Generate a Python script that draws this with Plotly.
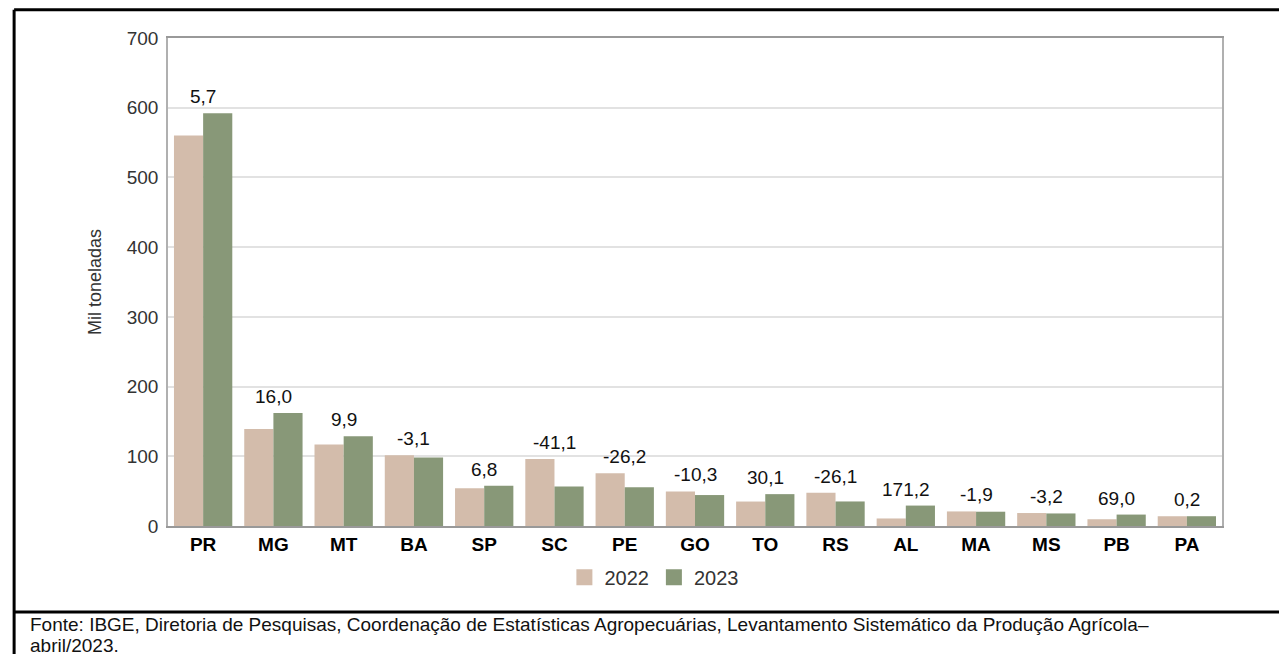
import plotly.graph_objects as go

# Produção por UF (mil toneladas) e variação percentual 2023/2022
estados = ["PR", "MG", "MT", "BA", "SP", "SC", "PE", "GO", "TO", "RS", "AL", "MA", "MS", "PB", "PA"]
prod_2022 = [560, 139, 117, 101.5, 54, 96, 75.5, 49.5, 35.1, 47.6, 10.8, 20.9, 18.6, 9.7, 14.0]
prod_2023 = [592, 162, 128.6, 98.4, 57.7, 56.5, 55.7, 44.4, 45.7, 35.2, 29.3, 20.5, 18.0, 16.4, 14.03]
variacao = ["5,7", "16,0", "9,9", "-3,1", "6,8", "-41,1", "-26,2", "-10,3", "30,1", "-26,1",
            "171,2", "-1,9", "-3,2", "69,0", "0,2"]
anos = ["2022", "2023"]

cor_2022 = "#d3bcab"
cor_2023 = "#889878"
cores = [cor_2022, cor_2023]
fonte = "Liberation Sans, Arial, sans-serif"

fig = go.Figure()
fig.add_trace(go.Bar(x=estados, y=prod_2022, name="2022", showlegend=False,
                     marker=dict(color=cor_2022, line=dict(width=0))))
fig.add_trace(go.Bar(x=estados, y=prod_2023, name="2023", showlegend=False,
                     marker=dict(color=cor_2023, line=dict(width=0))))

# entradas da legenda com quadrado maior
for ano, cor in zip(anos, cores):
    fig.add_trace(go.Scatter(x=[None], y=[None], mode="markers", name=ano,
                             marker=dict(symbol="square", size=19, color=cor)))

# rótulos de variação acima de cada par de barras
for uf, a, b, v in zip(estados, prod_2022, prod_2023, variacao):
    fig.add_annotation(x=uf, y=max(a, b), text=v, showarrow=False, yanchor="bottom", yshift=4,
                       font=dict(family=fonte, size=19, color="#111"))

# moldura da figura
linha = dict(color="black", width=3)
fig.add_shape(type="line", xref="paper", yref="paper", x0=-0.146, x1=1.2, y0=1.058, y1=1.058, line=linha)
fig.add_shape(type="line", xref="paper", yref="paper", x0=-0.146, x1=-0.146, y0=1.058, y1=-0.3, line=linha)
fig.add_shape(type="line", xref="paper", yref="paper", x0=-0.146, x1=1.2, y0=-0.176, y1=-0.176, line=linha)

# fonte dos dados, em duas linhas
nota = ["Fonte: IBGE, Diretoria de Pesquisas, Coordenação de Estatísticas Agropecuárias, "
        "Levantamento Sistemático da Produção Agrícola–", "abril/2023."]
for texto, ypx in zip(nota, [616.5, 637.5]):
    fig.add_annotation(xref="paper", yref="paper", x=-0.133, y=(518 - ypx) / 488,
                       xanchor="left", yanchor="middle", showarrow=False, text=texto,
                       font=dict(family=fonte, size=19, color="#111"))

fig.update_layout(
    width=1287, height=654,
    margin=dict(l=160, r=73, t=30, b=136),
    paper_bgcolor="white", plot_bgcolor="white",
    barmode="group", bargap=0.17, bargroupgap=0,
    font=dict(family=fonte, size=19, color="#333"),
    showlegend=True,
    legend=dict(orientation="h", x=0.461, xanchor="center", y=-0.105, yanchor="middle",
                font=dict(family=fonte, size=20, color="#333"),
                bgcolor="rgba(0,0,0,0)"),
)
fig.update_xaxes(
    showline=True, linecolor="#999", linewidth=1.5, mirror=True,
    tickfont=dict(family=fonte, size=19, color="black", weight="bold"),
    ticks="", showgrid=False,
)
fig.update_yaxes(
    range=[0, 700], dtick=100, showgrid=True, gridcolor="#e2e2e2", gridwidth=1.5,
    showline=True, linecolor="#b0b0b0", linewidth=1.5, mirror=True, zeroline=False,
    tickfont=dict(family=fonte, size=19, color="#333"), ticks="", ticklabelstandoff=4,
    title=dict(text="Mil toneladas", font=dict(family=fonte, size=18, color="#333"), standoff=20),
)

fig.write_html("out.html")
